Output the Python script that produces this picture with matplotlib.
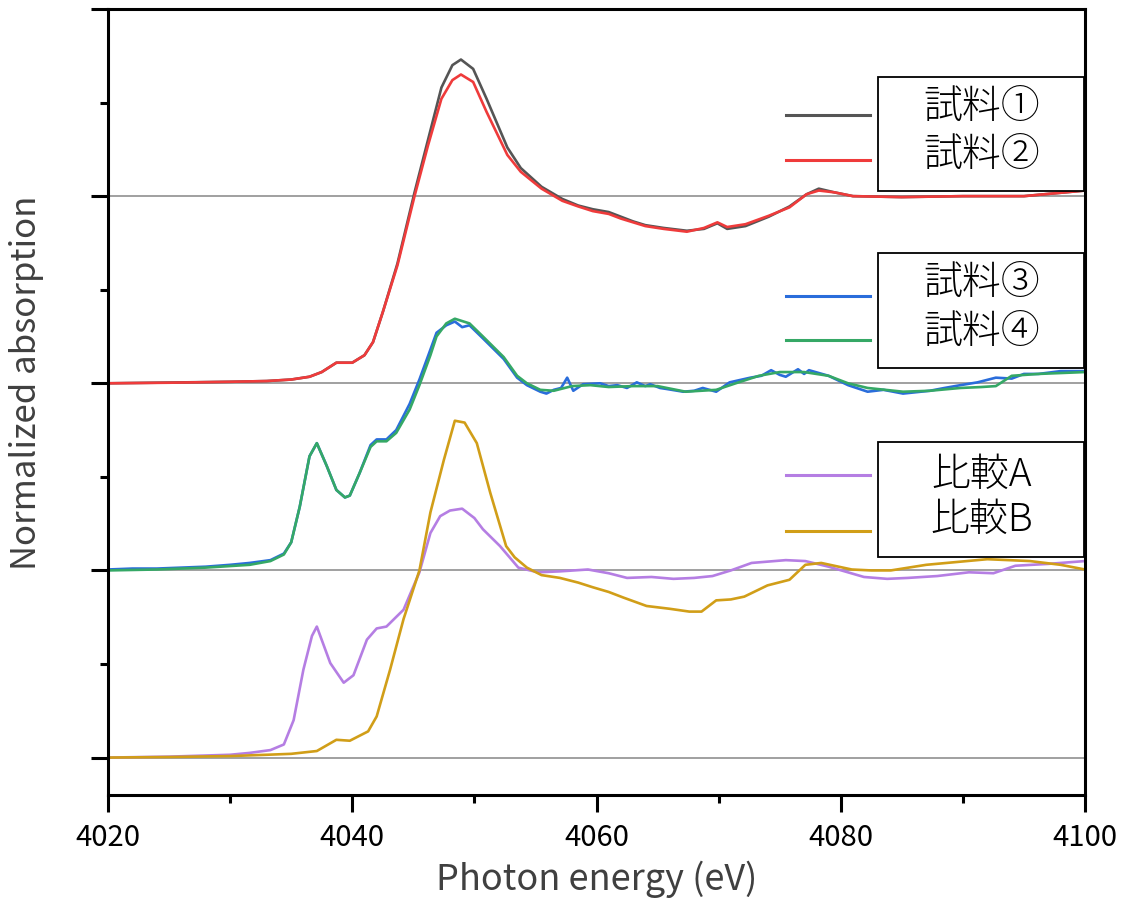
import numpy as np
import matplotlib
matplotlib.use("Agg")
import matplotlib.pyplot as plt
from matplotlib.patches import Rectangle
from matplotlib.lines import Line2D
from matplotlib.ticker import MultipleLocator

plt.rcParams["font.family"] = ["Noto Sans CJK JP", "DejaVu Sans"]

# offsets for stacking (normalized absorption, pre-edge = 0)
OFFSET_12 = 2.0
OFFSET_34 = 1.0
OFFSET_AB = 0.0
BASELINES = [0, 1, 2, 3]

# 試料② (red)
x2 = [4020, 4025, 4030, 4033, 4035, 4036.5, 4037.5, 4038.7, 4040.0, 4041.0, 4041.7, 4042.5,
      4043.7, 4045.1, 4046.2, 4047.3, 4048.2, 4048.9, 4049.9, 4051.0, 4052.7, 4053.8, 4055.5,
      4057.2, 4058.5, 4059.7, 4061.0, 4062.0, 4063.0, 4064.0, 4065.5, 4067.4, 4068.8, 4069.9,
      4070.7, 4072.2, 4074.1, 4075.8, 4077.2, 4078.2, 4079.5, 4081, 4085, 4090, 4095, 4100]
y2 = [0.0, 0.003, 0.008, 0.012, 0.02, 0.035, 0.06, 0.11, 0.11, 0.15, 0.22, 0.38,
      0.63, 1.00, 1.27, 1.52, 1.62, 1.65, 1.61, 1.45, 1.22, 1.13, 1.04,
      0.975, 0.945, 0.92, 0.905, 0.88, 0.86, 0.84, 0.825, 0.81, 0.83, 0.86,
      0.835, 0.85, 0.895, 0.94, 1.01, 1.03, 1.02, 1.0, 0.995, 1.0, 1.0, 1.03]

# 試料① (dark gray)
x1 = x2
y1 = [0.0, 0.004, 0.008, 0.012, 0.02, 0.035, 0.06, 0.11, 0.11, 0.15, 0.22, 0.38,
      0.64, 1.02, 1.30, 1.58, 1.70, 1.73, 1.68, 1.52, 1.26, 1.15, 1.05,
      0.985, 0.95, 0.93, 0.915, 0.89, 0.865, 0.845, 0.83, 0.815, 0.825, 0.855,
      0.825, 0.84, 0.89, 0.945, 1.01, 1.04, 1.02, 1.0, 0.995, 1.0, 1.0, 1.03]

# 試料④ (green)
x4 = [4020, 4024, 4028, 4031.6, 4033.3, 4034.4, 4035.0, 4035.7, 4036.5, 4037.1, 4037.9,
      4038.7, 4039.4, 4039.8, 4040.6, 4041.5, 4042.0, 4042.8, 4043.6, 4044.7, 4045.5, 4046.4,
      4046.9, 4047.7, 4048.4, 4049.6, 4050.7, 4052.4, 4053.5, 4054.3, 4055.4, 4056.5, 4058,
      4059.5, 4061, 4063, 4065, 4067.3, 4069.8, 4071.4, 4073.3, 4075, 4077, 4079, 4080.6,
      4082.2, 4085.1, 4087.3, 4089.8, 4091.5, 4092.7, 4094, 4096.2, 4100]
y4 = [0.0, 0.005, 0.015, 0.03, 0.05, 0.085, 0.15, 0.34, 0.61, 0.68, 0.56,
      0.43, 0.39, 0.40, 0.52, 0.66, 0.69, 0.69, 0.735, 0.86, 0.99, 1.15,
      1.25, 1.32, 1.345, 1.32, 1.25, 1.14, 1.04, 1.0, 0.965, 0.96, 0.985,
      0.99, 0.98, 0.985, 0.985, 0.955, 0.965, 1.0, 1.04, 1.06, 1.06, 1.04, 1.0,
      0.975, 0.955, 0.96, 0.975, 0.98, 0.985, 1.04, 1.05, 1.06]

# 試料③ (blue)
x3 = [4020, 4022, 4024, 4026, 4028, 4030, 4031.6, 4033.3, 4034.4, 4035.0, 4035.7, 4036.5,
      4037.1, 4037.9, 4038.7, 4039.4, 4039.8, 4040.6, 4041.5, 4042.0, 4042.8, 4043.6, 4044.7,
      4045.5, 4046.4, 4046.9, 4047.7, 4048.4, 4049.0, 4049.6, 4050.7, 4052.4, 4053.5, 4054.3,
      4055.4, 4055.9, 4056.5, 4057.1, 4057.6, 4058.1, 4058.9, 4060.3, 4061.0, 4061.7, 4062.5,
      4063.3, 4064.0, 4064.4, 4065.2, 4065.7, 4067.1, 4068.0, 4068.7, 4069.8, 4070.9, 4072.6,
      4073.5, 4074.3, 4075.0, 4075.5, 4076.5, 4077.0, 4077.4, 4079.0, 4080.6, 4082.2, 4083.5,
      4085.1, 4087.3, 4088.5, 4089.8, 4091.2, 4092.7, 4094.0, 4095.0, 4096.2, 4098, 4100]
y3 = [0.005, 0.01, 0.01, 0.015, 0.02, 0.03, 0.04, 0.055, 0.09, 0.15, 0.34, 0.61,
      0.68, 0.56, 0.43, 0.39, 0.40, 0.52, 0.67, 0.70, 0.70, 0.75, 0.89,
      1.02, 1.18, 1.27, 1.31, 1.33, 1.30, 1.31, 1.24, 1.13, 1.03, 0.99,
      0.955, 0.945, 0.965, 0.975, 1.03, 0.96, 0.995, 1.0, 0.985, 0.99, 0.975,
      1.005, 0.985, 0.995, 0.975, 0.97, 0.955, 0.96, 0.975, 0.955, 1.005, 1.03,
      1.04, 1.07, 1.045, 1.035, 1.075, 1.05, 1.07, 1.04, 0.99, 0.955, 0.965,
      0.945, 0.96, 0.975, 0.99, 1.005, 1.03, 1.025, 1.05, 1.05, 1.065, 1.065]

# 比較A (purple)
xa = [4020, 4025, 4030, 4031.6, 4033.3, 4034.4, 4035.2, 4036.0, 4036.7, 4037.1, 4038.2,
      4039.3, 4040.1, 4041.2, 4042.0, 4042.8, 4044.2, 4045.5, 4046.4, 4047.2, 4048.0, 4049.0,
      4050.0, 4050.7, 4052.1, 4053.6, 4055.2, 4057, 4059.3, 4061, 4062.5, 4064.5, 4066.3,
      4068, 4069.5, 4071, 4072.7, 4075.5, 4077.1, 4079.0, 4081.9, 4083.8, 4085.5, 4087.9,
      4090.5, 4092.5, 4094.3, 4097, 4100]
ya = [0.0, 0.005, 0.015, 0.025, 0.04, 0.07, 0.20, 0.47, 0.65, 0.70, 0.505,
      0.40, 0.44, 0.63, 0.69, 0.70, 0.79, 0.99, 1.20, 1.29, 1.32, 1.33,
      1.28, 1.22, 1.13, 1.015, 0.99, 0.995, 1.005, 0.985, 0.96, 0.965, 0.955,
      0.96, 0.97, 1.0, 1.04, 1.055, 1.05, 1.02, 0.965, 0.955, 0.96, 0.97,
      0.99, 0.985, 1.025, 1.035, 1.05]

# 比較B (gold)
xb = [4020, 4025, 4030, 4033, 4035, 4037.1, 4038.7, 4039.8, 4041.3, 4042.0, 4043.1,
      4044.2, 4045.5, 4046.4, 4047.5, 4048.4, 4049.2, 4050.2, 4051.3, 4052.6, 4053.3, 4054.3,
      4055.5, 4057.0, 4058.5, 4059.7, 4061, 4062.2, 4064.1, 4066, 4067.6, 4068.6, 4069.8,
      4071, 4072.1, 4074.0, 4075.8, 4077.1, 4078.4, 4080.9, 4082.5, 4084.1, 4087.0, 4089.5,
      4092.0, 4095.5, 4098, 4100]
yb = [0.0, 0.003, 0.008, 0.015, 0.02, 0.035, 0.095, 0.09, 0.14, 0.22, 0.47,
      0.74, 1.0, 1.31, 1.59, 1.80, 1.79, 1.68, 1.415, 1.13, 1.07, 1.015,
      0.975, 0.96, 0.935, 0.91, 0.885, 0.855, 0.81, 0.795, 0.78, 0.78, 0.84,
      0.845, 0.86, 0.92, 0.95, 1.03, 1.04, 1.005, 1.0, 1.0, 1.03, 1.045,
      1.06, 1.05, 1.03, 1.005]

C1, C2 = "#555555", "#ef3b3b"
C3, C4 = "#2a6ddb", "#35a866"
CA, CB = "#b57ee3", "#d19e18"

fig = plt.figure(figsize=(11.38, 9.18), dpi=100)
ax = fig.add_axes([108 / 1138, (918 - 795) / 918, 977 / 1138, 786 / 918])

for b in BASELINES:
    ax.axhline(b, color="#999999", lw=1.3, zorder=1)

lw = 1.9
ax.plot(xa, np.array(ya) + OFFSET_AB, color=CA, lw=lw, zorder=2)
ax.plot(xb, np.array(yb) + OFFSET_AB, color=CB, lw=lw, zorder=2)
ax.plot(x3, np.array(y3) + OFFSET_34, color=C3, lw=lw, zorder=2)
ax.plot(x4, np.array(y4) + OFFSET_34, color=C4, lw=lw, zorder=2)
ax.plot(x1, np.array(y1) + OFFSET_12, color=C1, lw=lw, zorder=2)
ax.plot(x2, np.array(y2) + OFFSET_12, color=C2, lw=lw, zorder=2)

ax.set_xlim(4020, 4100)
ax.set_ylim(-0.2, 4.0)
ax.xaxis.set_major_locator(MultipleLocator(20))
ax.xaxis.set_minor_locator(MultipleLocator(10))
ax.yaxis.set_major_locator(MultipleLocator(1))
ax.yaxis.set_minor_locator(MultipleLocator(0.5))
ax.set_yticklabels([])
ax.tick_params(which="major", length=12, width=2.2, direction="out", labelsize=21, pad=8)
ax.tick_params(which="minor", length=6, width=2.2, direction="out")
for s in ax.spines.values():
    s.set_linewidth(2.2)

ax.set_xlabel("Photon energy (eV)", fontsize=26, color="#404040", labelpad=6)
ax.set_ylabel("Normalized absorption", fontsize=25, color="#404040")
ax.yaxis.set_label_coords(-0.066, 0.524)

# custom legends: handles outside the framed labels
groups = [
    (0.9135, 0.7684, [(0.865, 0.875, C1, "試料①"), (0.808, 0.814, C2, "試料②")]),
    (0.6896, 0.5433, [(0.635, 0.651, C3, "試料③"), (0.579, 0.589, C4, "試料④")]),
    (0.4491, 0.3028, [(0.407, 0.407, CA, "比較A"), (0.336, 0.350, CB, "比較B")]),
]
for top, bottom, rows in groups:
    ax.add_patch(Rectangle((0.788, bottom), 0.211, top - bottom, transform=ax.transAxes,
                           facecolor="white", edgecolor="black", lw=1.3, zorder=5))
    for ly, ty, c, label in rows:
        ax.add_line(Line2D([0.694, 0.780], [ly, ly], transform=ax.transAxes,
                           color=c, lw=2.2, zorder=6))
        ax.text(0.8946, ty, label, transform=ax.transAxes, ha="center", va="center",
                fontsize=28, fontweight="light", zorder=7)

fig.savefig("out.png", dpi=100)
